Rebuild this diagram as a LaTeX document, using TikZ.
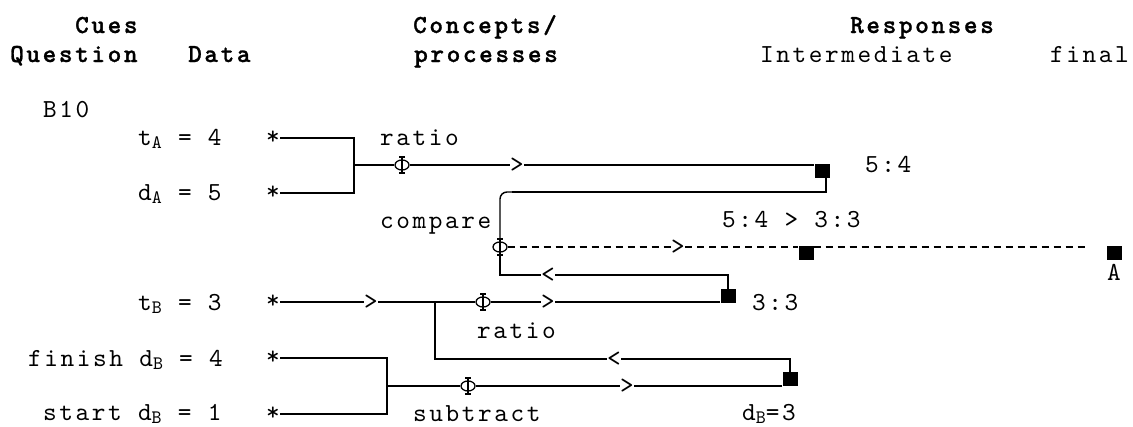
\documentclass[tikz,border=0pt]{standalone}
\usepackage{fontspec}
\usetikzlibrary{shapes.geometric}
\newfontfamily\tw{lmmono10-regular.otf}[LetterSpace=10]
\newfontfamily\twb{lmmonolt10-bold.otf}[LetterSpace=10, FakeBold=1]
\newcommand\lowidx[1]{\raisebox{-3pt}{\fontsize{19}{19}\selectfont #1}}
% vertical stroke of a phi node, with its small serifs
\newcommand\phistroke[1]{%
  \draw[line width=1.4pt] ([yshift=8pt]#1.center) -- ([yshift=-8pt]#1.center);
  \draw[line width=1.1pt] ([xshift=-3pt,yshift=8pt]#1.center) -- ([xshift=3pt,yshift=8pt]#1.center)
                          ([xshift=-3pt,yshift=-8pt]#1.center) -- ([xshift=3pt,yshift=-8pt]#1.center);}
\tikzset{
  txt/.style={inner sep=0pt, anchor=base west, font=\fontsize{26}{26}\selectfont\tw},
  hd/.style={txt, font=\fontsize{26}{26}\selectfont\twb},
  sym/.style={inner sep=0pt, fill=white, font=\fontsize{26}{26}\selectfont\tw},
  phi/.style={ellipse, draw, line width=1.3pt, fill=white, minimum width=14pt, minimum height=10pt, inner sep=0pt},
  box/.style={fill=black, minimum width=15pt, minimum height=14pt, inner sep=0pt},
  wire/.style={line width=1.4pt},
  dwire/.style={line width=1.3pt, dash pattern=on 7pt off 5pt},
}
\begin{document}
\begin{tikzpicture}[x=1pt, y=-1pt]
\useasboundingbox (0,0) rectangle (1133,426);

% column headings
\node[hd] (hCues) at (75,33) {Cues};
\node[hd] (hQ) at (10,62) {Question};
\node[hd] (hData) at (188,62) {Data};
\node[hd] (hConc) at (413,33) {Concepts/};
\node[hd] (hProc) at (414,62) {processes};
\node[hd] (hResp) at (850,33) {Responses};
\node[txt] (hInt) at (760,62) {Intermediate};
\node[txt] (hFin) at (1050,62) {final};

% question and data
\node[txt] (B10) at (43,117) {B10};
\node[txt] (lA1) at (138,145) {t\lowidx{A} = 4};
\node[txt] (lA2) at (138,200) {d\lowidx{A} = 5};
\node[txt] (lB1) at (138,310) {t\lowidx{B} = 3};
\node[txt] (lB2) at (28,366) {finish d\lowidx{B} = 4};
\node[txt] (lB3) at (43,420) {start d\lowidx{B} = 1};

\node[sym] (sA1) at (273,138) {*};
\node[sym] (sA2) at (273,193) {*};
\node[sym] (sB) at (273,302) {*};
\node[sym] (sF) at (273,358) {*};
\node[sym] (sS) at (273,414) {*};

% ratio of A
\coordinate (jA) at (354,165);
\node[phi] (phiA) at (402,165) {};
\node[sym] (arA) at (517,165) {>};
\node[box] (sq54) at (822,171) {};
\node[txt] (lR1) at (380,145) {ratio};
\node[txt] (l54) at (865,172) {5:4};
\draw[wire] (sA1.east) -| (jA) |- (sA2.east);
\draw[wire] (jA) -- (phiA) -- (arA) -- (arA -| sq54.west);
\phistroke{phiA}

% comparison
\coordinate (cC) at (500,192);
\coordinate (cC2) at (512,192);
\node[phi] (phiC) at (500,247) {};
\node[txt] (lCmp) at (380,228) {compare};
\node[txt] (lCmpR) at (722,227) {5:4 > 3:3};
\draw[wire] ([xshift=4pt]sq54.south) |- (cC2);
\draw[wire, rounded corners=7pt] (cC2) -- (cC) -- ([yshift=8pt]phiC.center);

\node[sym] (arC) at (678,247) {>};
\node[box] (sqI) at (806,253) {};
\node[box] (sqA) at (1114,253) {};
\coordinate (endC) at (1085,247);
\node[txt, anchor=base] (lblA) at (1114,280) {A};
\draw[dwire] (phiC) -- (arC);
\draw[dwire] (arC) -- (arC -| sqI.west);
\draw[dwire] (arC -| sqI.east) -- (endC);

% ratio of B
\node[sym] (ltC) at (548,275) {<};
\node[box] (s33) at (728,296) {};
\node[txt] (l33) at (752,310) {3:3};
\draw[wire] (s33.north) |- (ltC);
\draw[wire] (ltC) -| ([yshift=-8pt]phiC.center);
\phistroke{phiC}

\node[sym] (arB1) at (371,302) {>};
\coordinate (jB) at (435,302);
\node[phi] (phiB) at (483,302) {};
\node[sym] (arB2) at (548,302) {>};
\node[txt] (lR2) at (477,338) {ratio};
\draw[wire] (sB) -- (arB1);
\draw[wire] (arB1) -- (jB) -- (phiB) -- (arB2) -- (arB2 -| s33.west);
\phistroke{phiB}

\node[sym] (ltD) at (614,359) {<};
\node[box] (sqD) at (790,379) {};
\draw[wire] (jB) |- (ltD);
\draw[wire] (ltD) -| (sqD.north);

% distance of B
\coordinate (jD) at (387,386);
\node[phi] (phiD) at (468,386) {};
\node[sym] (arD) at (627,386) {>};
\node[txt] (lSub) at (413,421) {subtract};
\node[txt] (ldB) at (742,420) {d\lowidx{B}=3};
\draw[wire] (sF.east) -| (jD) |- (sS.east);
\draw[wire] (jD) -- (phiD) -- (arD) -- (arD -| sqD.west);
\phistroke{phiD}
\end{tikzpicture}
\end{document}
